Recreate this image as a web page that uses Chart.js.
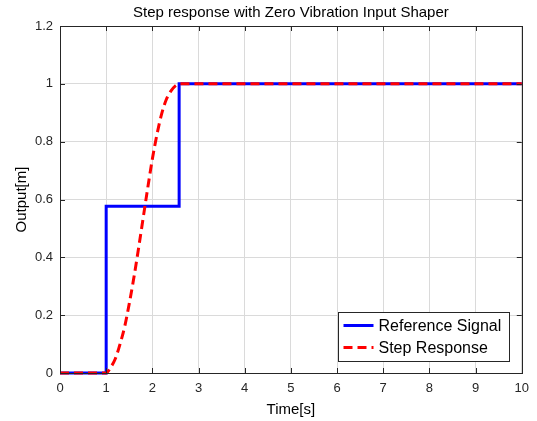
<!DOCTYPE html>
<html>
<head>
<meta charset="utf-8">
<script src="https://cdn.jsdelivr.net/npm/chart.js@4/dist/chart.umd.min.js"></script>
<style>
  html, body { margin: 0; padding: 0; background: #fff; }
</style>
</head>
<body>
<canvas id="stepChart" width="537" height="421"></canvas>
<script>
// reference (shaped input) and system output
const refTime   = [0, 1, 1, 2.58, 2.58, 10];
const refValue  = [0, 0, 0.577, 0.577, 1, 1];
const respTime  = [0, 1, 1.1, 1.2, 1.3, 1.4, 1.5, 1.6, 1.7, 1.8, 1.9, 2.0, 2.1, 2.2, 2.3, 2.4, 2.5, 2.6, 10];
const respValue = [0, 0, 0.02, 0.05, 0.10, 0.16, 0.24, 0.33, 0.43, 0.535, 0.64, 0.74, 0.825, 0.895, 0.945, 0.975, 0.993, 1, 1];
const xTicks = [0, 1, 2, 3, 4, 5, 6, 7, 8, 9, 10];
const yTicks = [0, 0.2, 0.4, 0.6, 0.8, 1, 1.2];
const chartTitle = 'Step response with Zero Vibration Input Shaper';

const FONT = "'Liberation Sans', Arial, sans-serif";
const toPts = (xs, ys) => xs.map((x, i) => ({ x, y: ys[i] }));

// MATLAB-ish box with inward ticks, title over the axes, legend inside
const boxPlugin = {
  id: 'boxAxes',
  afterDatasetsDraw(chart) {
    const { ctx, chartArea: a, scales } = chart;
    ctx.save();
    ctx.strokeStyle = '#262626';
    ctx.lineWidth = 1;
    ctx.beginPath();
    xTicks.forEach(v => {
      const px = Math.round(scales.x.getPixelForValue(v)) + 0.5;
      ctx.moveTo(px, a.bottom); ctx.lineTo(px, a.bottom - 5);
      ctx.moveTo(px, a.top); ctx.lineTo(px, a.top + 5);
    });
    yTicks.forEach(v => {
      const py = Math.round(scales.y.getPixelForValue(v)) + 0.5;
      ctx.moveTo(a.left, py); ctx.lineTo(a.left + 5, py);
      ctx.moveTo(a.right, py); ctx.lineTo(a.right - 5, py);
    });
    ctx.stroke();
    ctx.strokeRect(Math.round(a.left) + 0.5, Math.round(a.top) + 0.5,
      Math.round(a.right - a.left), Math.round(a.bottom - a.top));

    // title
    ctx.fillStyle = '#000';
    ctx.font = '15px ' + FONT;
    ctx.textAlign = 'center';
    ctx.textBaseline = 'middle';
    ctx.fillText(chartTitle, (a.left + a.right) / 2, 13);
    ctx.textAlign = 'left';

    // legend
    const ds = chart.data.datasets;
    ctx.font = '16px ' + FONT;
    const tw = Math.max(...ds.map(d => ctx.measureText(d.label).width));
    const w = Math.round(tw + 48), h = 49;
    const lx = Math.round(a.right - 13 - w) + 0.5, ly = Math.round(a.bottom - 12 - h) + 0.5;
    ctx.fillStyle = '#fff';
    ctx.fillRect(lx, ly, w, h);
    ctx.strokeStyle = '#262626';
    ctx.strokeRect(lx, ly, w, h);
    ds.forEach((d, i) => {
      const cy = ly + 13 + i * 22;
      ctx.strokeStyle = d.borderColor;
      ctx.lineWidth = d.borderWidth;
      ctx.setLineDash(d.borderDash || []);
      ctx.beginPath();
      ctx.moveTo(lx + 5, cy); ctx.lineTo(lx + 35, cy);
      ctx.stroke();
      ctx.setLineDash([]);
      ctx.fillStyle = '#000';
      ctx.textBaseline = 'middle';
      ctx.fillText(d.label, lx + 40, cy + 1);
    });
    ctx.restore();
  }
};

new Chart(document.getElementById('stepChart'), {
  type: 'line',
  data: {
    datasets: [{
      label: 'Reference Signal',
      data: toPts(refTime, refValue),
      borderColor: '#0000ff',
      borderWidth: 3,
      pointRadius: 0,
      tension: 0,
      clip: 4,
      order: 1,
    }, {
      label: 'Step Response',
      data: toPts(respTime, respValue),
      borderColor: '#ff0000',
      borderWidth: 3,
      borderDash: [9, 5],
      pointRadius: 0,
      cubicInterpolationMode: 'monotone',
      clip: 4,
      order: 0,
    }],
  },
  options: {
    responsive: false,
    animation: false,
    layout: { padding: { left: 13, right: 15, top: 26, bottom: 2 } },
    plugins: {
      legend: { display: false },
      tooltip: { enabled: false },
      title: { display: false },
    },
    scales: {
      x: {
        type: 'linear',
        min: 0, max: 10,
        afterBuildTicks: s => { s.ticks = xTicks.map(v => ({ value: v })); },
        afterFit: s => { s.height = 46; },
        ticks: { color: '#262626', font: { family: FONT, size: 13 }, padding: 8, maxRotation: 0 },
        grid: { color: '#dadada', tickLength: 0 },
        border: { color: '#262626' },
        title: { display: true, text: 'Time[s]', color: '#000', font: { family: FONT, size: 15 }, padding: { top: 0, bottom: 0 } },
      },
      y: {
        min: 0, max: 1.2,
        afterBuildTicks: s => { s.ticks = yTicks.map(v => ({ value: v })); },
        afterFit: s => { s.width = 47; },
        ticks: {
          color: '#262626', font: { family: FONT, size: 13 }, padding: 7,
          callback: v => String(Math.round(v * 10) / 10),
        },
        grid: { color: '#dadada', tickLength: 0 },
        border: { color: '#262626' },
        title: { display: true, text: 'Output[m]', color: '#000', font: { family: FONT, size: 15 }, padding: { top: 0, bottom: 0 } },
      },
    },
  },
  plugins: [boxPlugin],
});
</script>
</body>
</html>
